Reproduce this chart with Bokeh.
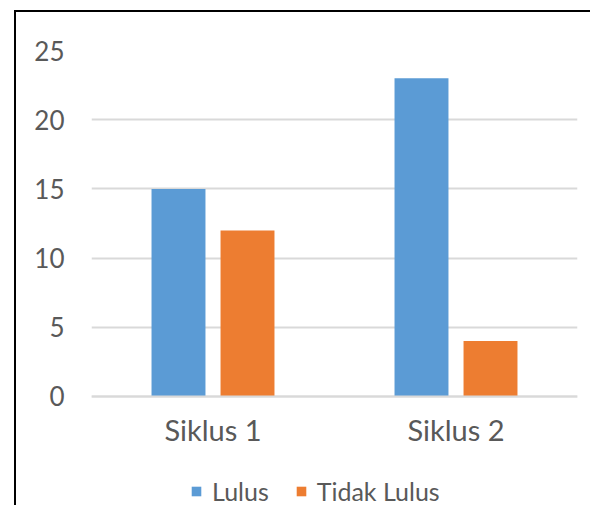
from bokeh.plotting import figure
from bokeh.models import FactorRange, ColumnDataSource, Legend, LegendItem, FixedTicker
from bokeh.transform import dodge
from bokeh.embed import file_html
from bokeh.resources import INLINE

categories = ["Siklus 1", "Siklus 2"]
lulus = [15, 23]
tidak_lulus = [12, 4]
series_names = ["Lulus", "Tidak Lulus"]
y_ticks = [0, 5, 10, 15, 20, 25]

FONT = "Lato"
TXT = "#595959"
GRID = "#d9d9d9"

src = ColumnDataSource(dict(x=categories, lulus=lulus, tidak=tidak_lulus))

p = figure(x_range=FactorRange(*categories), y_range=(-7.88, 25),
           width=590, height=505, output_backend="svg", toolbar_location=None,
           min_border_left=91, min_border_right=13, min_border_top=50, min_border_bottom=0)
p.styles = {"background": "linear-gradient(#000,#000) 14px 10px / 2px 100% no-repeat, "
                          "linear-gradient(#000,#000) 14px 10px / 100% 2px no-repeat, #fff"}
p.border_fill_color = None
p.outline_line_color = None
p.background_fill_color = "white"

r1 = p.vbar(x=dodge("x", -0.142, range=p.x_range), top="lulus", width=0.222,
            source=src, color="#5b9bd5", line_color=None)
r2 = p.vbar(x=dodge("x", 0.142, range=p.x_range), top="tidak", width=0.222,
            source=src, color="#ed7d31", line_color=None)

p.xgrid.grid_line_color = None
p.ygrid.grid_line_color = GRID
p.ygrid.grid_line_width = 2
p.yaxis.ticker = FixedTicker(ticks=y_ticks)

for ax in (p.xaxis, p.yaxis):
    ax.major_tick_line_color = None
    ax.minor_tick_line_color = None
    ax.major_label_text_font = FONT
    ax.major_label_text_color = TXT
p.yaxis.major_label_text_font_size = "26px"
p.xaxis.major_label_text_font_size = "29px"
p.yaxis.axis_line_color = None
p.yaxis.major_label_standoff = 21
p.xaxis.fixed_location = 0
p.xaxis.axis_line_color = GRID
p.xaxis.axis_line_width = 2
p.xaxis.major_label_standoff = 10

legend = Legend(items=[LegendItem(label=series_names[0], renderers=[r1]),
                       LegendItem(label=series_names[1], renderers=[r2])],
                orientation="horizontal", location=(99, -1),
                label_text_font=FONT, label_text_font_size="25px", label_text_color=TXT,
                glyph_width=12, glyph_height=12, label_standoff=10, spacing=26,
                padding=0, margin=0, border_line_color=None, background_fill_alpha=0)
p.add_layout(legend, "center")

open("out.html", "w").write(file_html(p, INLINE))
